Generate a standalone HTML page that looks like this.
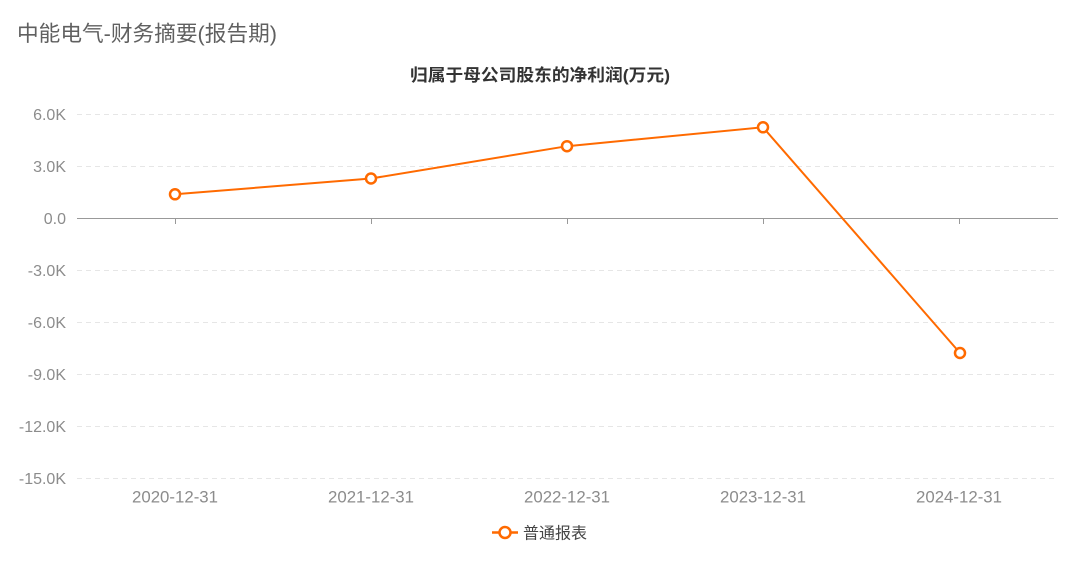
<!DOCTYPE html>
<html>
<head>
<meta charset="utf-8">
<style>
  html,body{margin:0;padding:0;background:#fff;}
  body{width:1080px;height:566px;overflow:hidden;}
  svg{display:block;}
  text{font-family:"Liberation Sans","Noto Sans CJK SC",sans-serif;}
</style>
</head>
<body>
<svg width="1080" height="566" viewBox="0 0 1080 566" xmlns="http://www.w3.org/2000/svg">
  <rect width="1080" height="566" fill="#fff"/>
  <!-- main title -->
  <text x="17" y="41" font-size="21.5" fill="#606060" textLength="260" lengthAdjust="spacingAndGlyphs">中能电气-财务摘要(报告期)</text>
  <!-- chart title -->
  <text x="540" y="81" font-size="17" font-weight="bold" fill="#333" text-anchor="middle" textLength="260" lengthAdjust="spacingAndGlyphs">归属于母公司股东的净利润(万元)</text>

  <!-- grid lines -->
  <g stroke="#e6e6e6" stroke-width="1" stroke-dasharray="5,4">
    <line x1="77" y1="114.5" x2="1058" y2="114.5"/>
    <line x1="77" y1="166.5" x2="1058" y2="166.5"/>
    <line x1="77" y1="270.5" x2="1058" y2="270.5"/>
    <line x1="77" y1="322.5" x2="1058" y2="322.5"/>
    <line x1="77" y1="374.5" x2="1058" y2="374.5"/>
    <line x1="77" y1="426.5" x2="1058" y2="426.5"/>
    <line x1="77" y1="478.5" x2="1058" y2="478.5"/>
  </g>
  <!-- zero axis -->
  <line x1="77" y1="218.5" x2="1058" y2="218.5" stroke="#999" stroke-width="1"/>
  <g stroke="#999" stroke-width="1">
    <line x1="175.5" y1="218.5" x2="175.5" y2="224"/>
    <line x1="371.5" y1="218.5" x2="371.5" y2="224"/>
    <line x1="567.5" y1="218.5" x2="567.5" y2="224"/>
    <line x1="763.5" y1="218.5" x2="763.5" y2="224"/>
    <line x1="959.5" y1="218.5" x2="959.5" y2="224"/>
  </g>

  <!-- y labels -->
  <g font-size="16" fill="#8c8c8c" text-anchor="end">
    <text x="66" y="120">6.0K</text>
    <text x="66" y="172">3.0K</text>
    <text x="66" y="224">0.0</text>
    <text x="66" y="276">-3.0K</text>
    <text x="66" y="328">-6.0K</text>
    <text x="66" y="380">-9.0K</text>
    <text x="66" y="432">-12.0K</text>
    <text x="66" y="484">-15.0K</text>
  </g>

  <!-- x labels -->
  <g font-size="16.5" fill="#8c8c8c" text-anchor="middle">
    <text x="175" y="502.5" textLength="86" lengthAdjust="spacingAndGlyphs">2020-12-31</text>
    <text x="371" y="502.5" textLength="86" lengthAdjust="spacingAndGlyphs">2021-12-31</text>
    <text x="567" y="502.5" textLength="86" lengthAdjust="spacingAndGlyphs">2022-12-31</text>
    <text x="763" y="502.5" textLength="86" lengthAdjust="spacingAndGlyphs">2023-12-31</text>
    <text x="959" y="502.5" textLength="86" lengthAdjust="spacingAndGlyphs">2024-12-31</text>
  </g>

  <!-- series -->
  <polyline points="175,194.3 371,178.5 567,146.2 763,127.3 960,353" fill="none" stroke="#ff6a00" stroke-width="2" stroke-linejoin="round"/>
  <g fill="#fff" stroke="#ff6a00" stroke-width="2.5">
    <circle cx="175" cy="194.3" r="5"/>
    <circle cx="371" cy="178.5" r="5"/>
    <circle cx="567" cy="146.2" r="5"/>
    <circle cx="763" cy="127.3" r="5"/>
    <circle cx="960" cy="353" r="5"/>
  </g>

  <!-- legend -->
  <line x1="492" y1="532.5" x2="518" y2="532.5" stroke="#ff6a00" stroke-width="2.5"/>
  <circle cx="505" cy="532.5" r="5.5" fill="#fff" stroke="#ff6a00" stroke-width="2.5"/>
  <text x="523" y="538.5" font-size="16" fill="#444">普通报表</text>
</svg>
</body>
</html>
